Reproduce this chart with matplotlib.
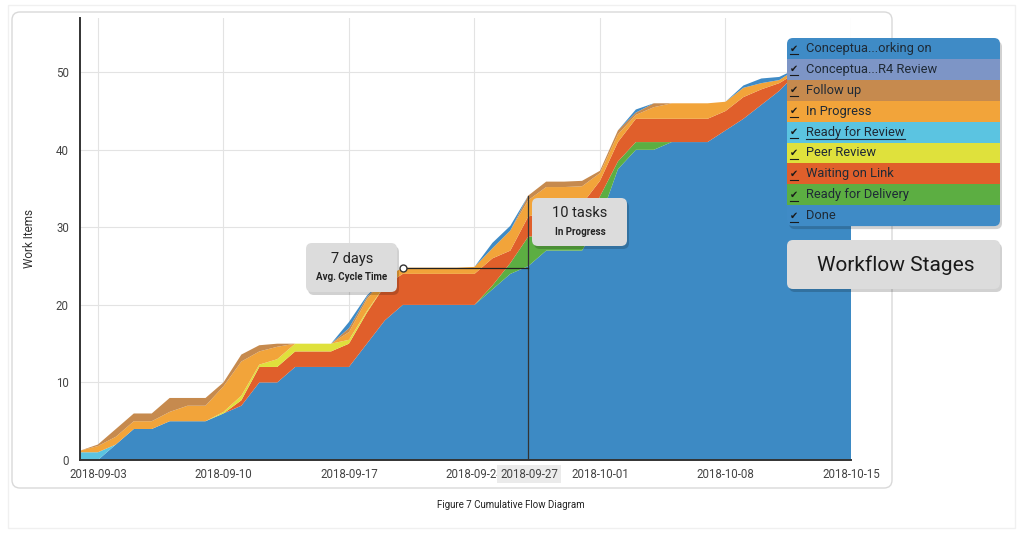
import numpy as np
import pandas as pd
import matplotlib
matplotlib.use("Agg")
import matplotlib.pyplot as plt
import matplotlib.dates as mdates
from matplotlib.patches import FancyBboxPatch, Rectangle
from matplotlib.lines import Line2D
from matplotlib.transforms import IdentityTransform

plt.rcParams['font.family'] = ['Roboto', 'DejaVu Sans']

# daily data, 2018-09-02 .. 2018-10-15
days = pd.date_range("2018-09-02", "2018-10-15", freq="D")

done = [0, 0, 2, 4, 4, 5, 5, 5, 6, 7, 10, 10, 12, 12, 12, 12, 15, 18, 20, 20, 20, 20,
        20, 22, 24, 25, 27, 27, 27, 31, 37.5, 40, 40, 41, 41, 41, 42.5, 44, 45.8, 47.6,
        50, 50, 50, 50]
ready_delivery = [0] * 23 + [0.5, 1.4, 3.8, 2, 1.5, 2.5, 3, 1, 1, 1] + [0] * 11
waiting_link = [0, 0, 0, 0, 0, 0, 0, 0, 0, 0.7, 2, 2, 2, 2, 2, 3, 4, 4.5, 4, 4, 4, 4,
                4, 3.5, 1.6, 2.6, 3, 4, 3.5, 2, 2.5, 3, 3, 3, 3, 3, 2.5, 2.8, 2, 1,
                0, 0, 0, 0]
peer_review = [0, 0, 0, 0, 0, 0, 0, 0, 0.2, 0.6, 0.3, 1, 1, 1, 1, 0.5, 0.2] + [0] * 27
ready_review = [1, 1] + [0] * 42
in_progress = [0.2, 0.8, 1, 1, 1, 1.2, 2, 2, 3.3, 4.4, 1.7, 1.6, 0, 0, 0, 1, 1.5, 1,
               0.8, 0.8, 0.8, 0.8, 0.9, 1.3, 2.6, 2.1, 3.2, 2.7, 2.3, 1, 1, 0.5, 1.5,
               2, 2, 2, 1.2, 1.2, 0.8, 0.4, 0.5, 0.5, 0.5, 0.5]
follow_up = [0, 0.2, 1, 1, 1, 1.8, 1, 1, 0.5, 0.9, 0.8, 0.4, 0, 0, 0, 0.5, 0.3, 0,
             0, 0, 0, 0, 0, 0, 0, 0.6, 0.7, 0.7, 0.7, 0.3, 0.5, 0.3, 0.5] + [0] * 11
concept_r4 = [0] * 44
concept_working = [0] * 15 + [0.8, 0.2] + [0] * 6 + [0.7, 0.6] + [0] * 6 + [0.4] + \
                  [0] * 5 + [0.3, 0.6, 0.4] + [0] * 4

stages = ["Done", "Ready for Delivery", "Waiting on Link", "Peer Review",
          "Ready for Review", "In Progress", "Follow up", "Conceptua...R4 Review",
          "Conceptua...orking on"]
colors = ["#3d8ac4", "#5cae42", "#e05f2b", "#dfe13c", "#5bc4e1", "#f2a43a",
          "#c68a4e", "#7d95c6", "#3f8bc6"]

W, H = 1024, 536
fig = plt.figure(figsize=(W / 100, H / 100), dpi=100)


def box(x0, y0, x1, y1, fc, ec="none", r=6, z=5, shadow=False, lw=1):
    if shadow:
        sh = FancyBboxPatch((x0 + 2, H - y1 - 3), x1 - x0, y1 - y0,
                            boxstyle=f"round,pad=0,rounding_size={r}",
                            fc="#000000", ec="none", alpha=0.18,
                            transform=IdentityTransform(), zorder=z - 0.1)
        fig.add_artist(sh)
    p = FancyBboxPatch((x0, H - y1), x1 - x0, y1 - y0,
                       boxstyle=f"round,pad=0,rounding_size={r}",
                       fc=fc, ec=ec, lw=lw, transform=IdentityTransform(), zorder=z)
    fig.add_artist(p)


def ftext(x, y, s, **kw):
    return fig.text(x / W, 1 - y / H, s, **kw)


# page and card outlines
fig.add_artist(Rectangle((8, H - 528), 1007, 523, fc="none", ec="#f0f0f0", lw=1,
                         transform=IdentityTransform(), zorder=0))
box(12, 12, 892, 488, "white", ec="#d9d9d9", r=8, z=0.5)

ax = fig.add_axes([80 / W, (H - 460) / H, (851 - 80) / W, (460 - 18) / H])
ax.set_zorder(2)
ax.patch.set_alpha(0)
ax.stackplot(days, done, ready_delivery, waiting_link, peer_review, ready_review,
             in_progress, follow_up, concept_r4, concept_working,
             colors=colors, lw=0, zorder=2)

ax.set_xlim(days[0], days[-1])
ax.set_ylim(0, 57)
ax.set_yticks([0, 10, 20, 30, 40, 50])
ticks = pd.to_datetime(["2018-09-03", "2018-09-10", "2018-09-17", "2018-09-24",
                        "2018-10-01", "2018-10-08", "2018-10-15"])
ax.set_xticks(ticks)
ax.xaxis.set_major_formatter(mdates.DateFormatter("%Y-%m-%d"))
ax.grid(True, color="#e3e3e3", lw=0.8, zorder=0)
ax.set_axisbelow(True)
ax.tick_params(length=0, labelsize=8.3, colors="#444444", pad=6)
ax.tick_params(axis="y", pad=8)
for s in ["top", "right"]:
    ax.spines[s].set_visible(False)
for s in ["left", "bottom"]:
    ax.spines[s].set_color("#333333")
    ax.spines[s].set_linewidth(1.4)
ax.set_ylabel("Work Items", fontsize=8.5, color="#333333", labelpad=14)

# cycle time / WIP annotations
sel = pd.Timestamp("2018-09-27")
start = pd.Timestamp("2018-09-20")
ax.plot([sel, sel], [0, 34.1], color="#333333", lw=0.9, zorder=4)
ax.plot([start, sel], [24.7, 24.7], color="#222222", lw=0.9, zorder=4)
ax.plot([start], [24.7], marker="o", ms=5, mfc="white", mec="#333333", mew=1, zorder=5)

ftext(529, 474, "2018-09-27", ha="center", va="center", fontsize=8.3, color="#444444",
      zorder=10, bbox=dict(boxstyle="square,pad=0.25", fc="#ebebeb", ec="none"))

box(306, 243, 397, 292, "#dcdcdc", r=6, z=6, shadow=True)
ftext(352, 259, "7 days", ha="center", va="center", fontsize=10.5, color="#222222", zorder=7)
ftext(352, 277, "Avg. Cycle Time", ha="center", va="center", fontsize=7,
      fontweight="bold", color="#222222", zorder=7)

box(532, 198, 627, 246, "#dcdcdc", r=6, z=6, shadow=True)
ftext(580, 213, "10 tasks", ha="center", va="center", fontsize=10.5, color="#222222", zorder=7)
ftext(580, 232, "In Progress", ha="center", va="center", fontsize=7,
      fontweight="bold", color="#222222", zorder=7)

# legend panel
lx0, lx1, ly0, row = 787, 1000, 38, 20.9
box(lx0, ly0, lx1, ly0 + row * 9, colors[-1], r=6, z=6, shadow=True)
renderer = fig.canvas.get_renderer()
for i, (name, col) in enumerate(zip(stages[::-1], colors[::-1])):
    y0 = ly0 + i * row
    if 0 < i < 8:
        fig.add_artist(Rectangle((lx0, H - y0 - row), lx1 - lx0, row, fc=col, ec="none",
                                 transform=IdentityTransform(), zorder=6.5))
    yc = y0 + row / 2
    ftext(794, yc, "\u2714", ha="center", va="center", fontsize=7, color="#1a1a1a",
          family="DejaVu Sans", zorder=8)
    fig.add_artist(Line2D([790, 798], [H - yc - 6, H - yc - 6], color="#1a1a1a", lw=0.8,
                          transform=IdentityTransform(), zorder=8))
    t = ftext(806, yc, name, ha="left", va="center", fontsize=9.3, color="#1f2a36", zorder=8)
    if name == "Ready for Review":
        ext = t.get_window_extent(renderer)
        fig.add_artist(Line2D([ext.x0, ext.x1], [H - yc - 7, H - yc - 7], color="#1f2a36",
                              lw=0.8, transform=IdentityTransform(), zorder=8))

box(787, 240, 1000, 289, "#dcdcdc", r=6, z=6, shadow=True)
ftext(896, 265, "Workflow Stages", ha="center", va="center", fontsize=15,
      color="#1a1a1a", zorder=7)

ftext(511, 505, "Figure 7 Cumulative Flow Diagram", ha="center", va="center",
      fontsize=7, color="#222222")

fig.savefig("out.png", dpi=100)
